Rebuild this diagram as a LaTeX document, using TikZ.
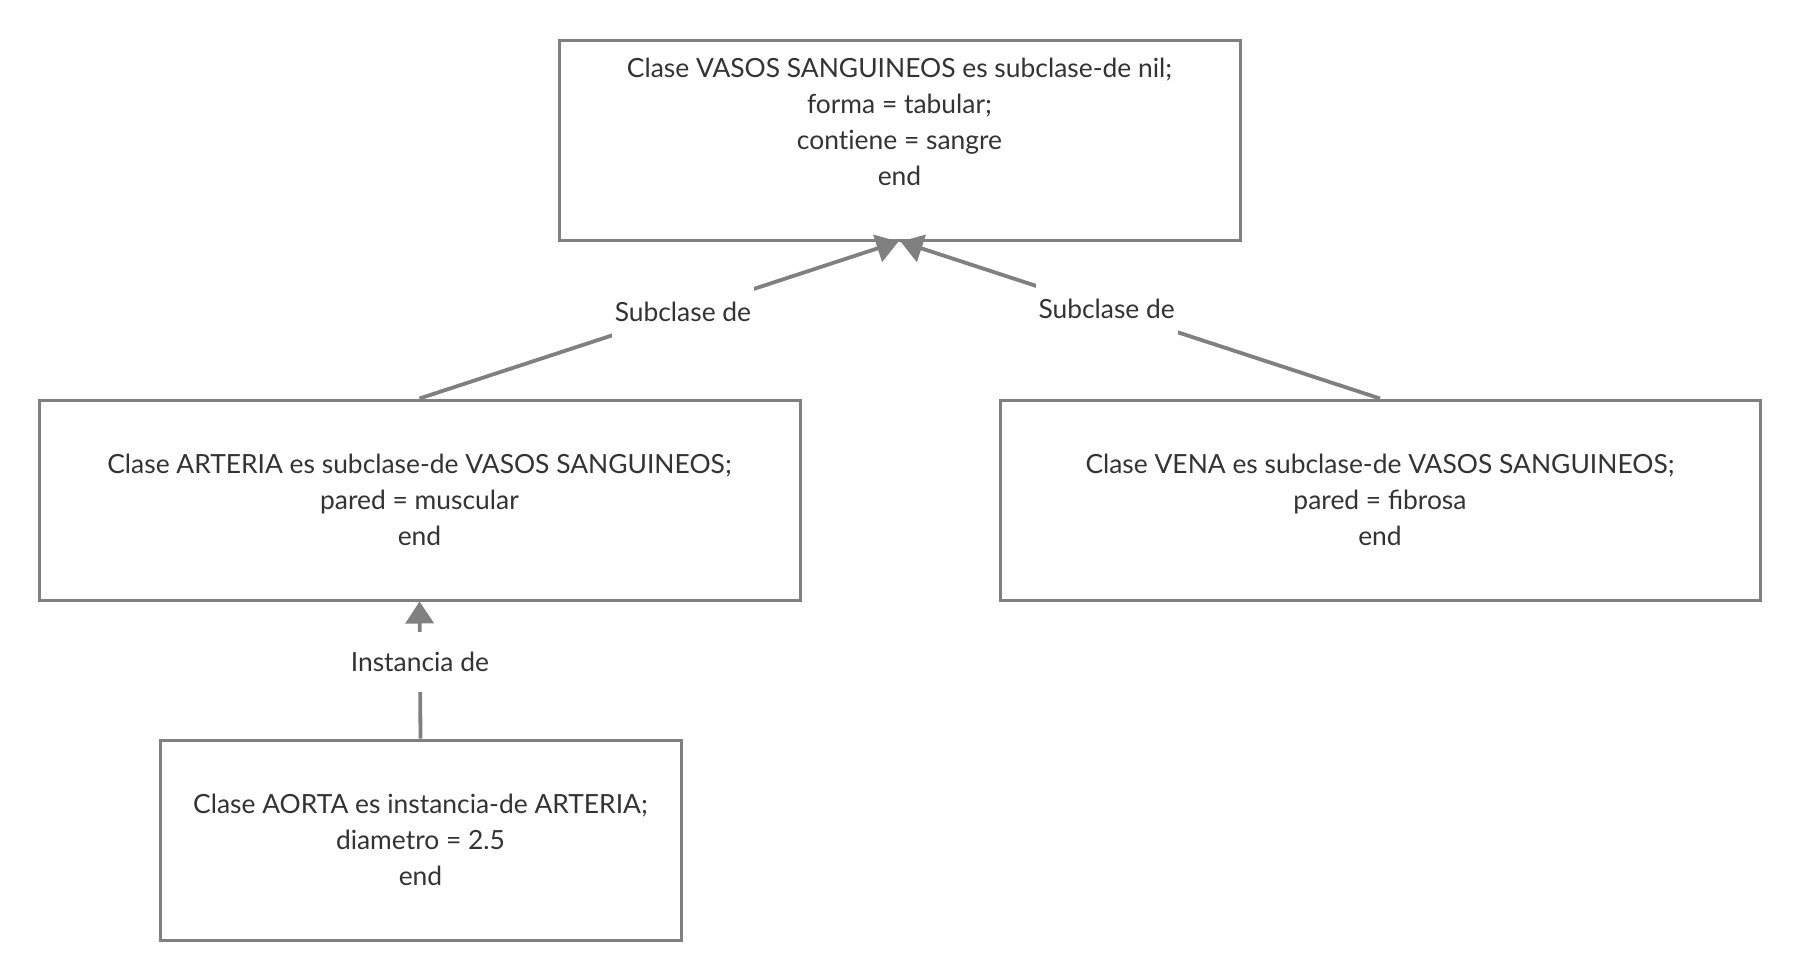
\documentclass[tikz,border=0pt]{standalone}
\usepackage{fontspec}
\setmainfont{Lato}
\usetikzlibrary{arrows.meta}
\definecolor{lc}{HTML}{808080}
\definecolor{tc}{HTML}{333333}
\begin{document}
\begin{tikzpicture}[x=0.5pt,y=-0.5pt,
  box/.style n args={2}{draw=lc, line width=1.5pt, fill=white,
    minimum width={#1*0.5pt}, minimum height={#2*0.5pt},
    align=center, text=tc, font=\fontsize{13.2}{18}\selectfont, inner sep=0pt},
  txt/.style={align=center, text=tc, font=\fontsize{13.2}{18}\selectfont, inner sep=0pt},
  conn/.style={draw=lc, line width=1.9pt, -{Triangle[length=11pt,width=14pt]}},
  lbl/.style={fill=white, text=tc, font=\fontsize{13.2}{18}\selectfont, inner xsep=1.5pt, inner ysep=10pt}]
\useasboundingbox[fill=white] (0,0) rectangle (1800,980);
\node[box={681}{200}] (top) at (899.5,140) {};
\node[txt] (toptxt) at (899.5,122) {Clase VASOS SANGUINEOS es subclase-de nil;\\forma = tabular;\\cont\kern0pt iene = sangre\\end};
\node[box={761}{200}] (art) at (419.5,500) {Clase ARTERIA es subclase-de VASOS SANGUINEOS;\\pared = muscular\\end};
\node[box={760}{200}] (ven) at (1380,500) {Clase VENA es subclase-de VASOS SANGUINEOS;\\pared = fibrosa\\end};
\node[box={521}{200}] (aor) at (420.5,840) {Clase AORTA es instancia-de ARTERIA;\\diametro = 2.5\\end};
\draw[conn] (art.north) -- node[lbl, pos=0.55]{Subclase de} ([xshift=-0.5pt]top.south);
\draw[conn] (ven.north) -- node[lbl, pos=0.57]{Subclase de} ([xshift=0.5pt]top.south);
\draw[conn] (aor.north) -- node[lbl, pos=0.56]{Instancia de} (art.south);
\end{tikzpicture}
\end{document}
